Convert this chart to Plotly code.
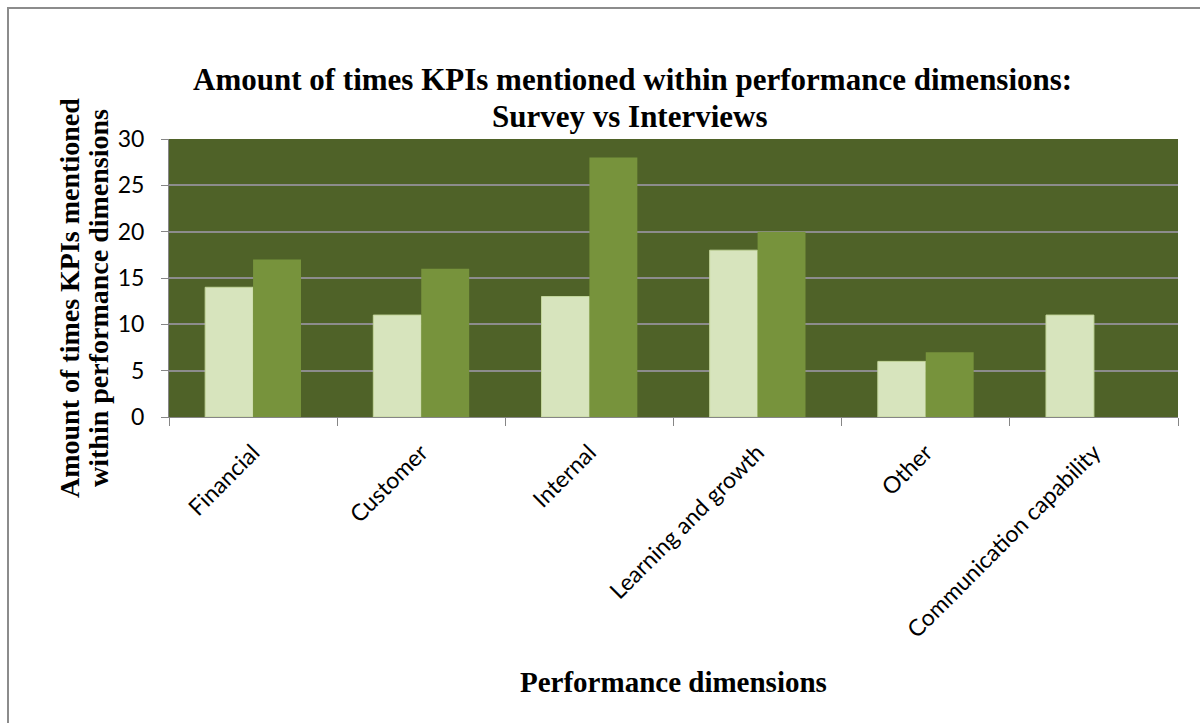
import plotly.graph_objects as go

categories = ["Financial", "Customer", "Internal", "Learning and growth", "Other", "Communication capability"]
survey = [14, 11, 13, 18, 6, 11]
interviews = [17, 16, 28, 20, 7, 0]
y_ticks = [0, 5, 10, 15, 20, 25, 30]
title_lines = ["Amount of times KPIs mentioned within performance dimensions:", "Survey vs Interviews"]
ytitle_lines = ["Amount of times KPIs mentioned", "within performance dimensions"]
xtitle = "Performance dimensions"

fig = go.Figure()
fig.add_trace(go.Bar(x=categories, y=survey, name="Survey",
                     marker=dict(color="#D7E4BD", line=dict(color="#C3D69B", width=1))))
fig.add_trace(go.Bar(x=categories, y=interviews, name="Interviews",
                     marker=dict(color="#77933C", line=dict(color="#77933C", width=0))))

W, H = 1200, 723
L, R, T, B = 169, 22, 139, 306
PW, PH = W - L - R, H - T - B

def px(x):
    return (x - L) / PW

def py(y):
    return (H - B - y) / PH

fig.update_layout(
    width=W, height=H,
    margin=dict(l=L, r=R, t=T, b=B),
    paper_bgcolor="white",
    plot_bgcolor="#4F6228",
    showlegend=False,
    barmode="group",
    bargap=0.43,
    bargroupgap=0,
    font=dict(family="Lato", color="black"),
)

serif_bold = dict(family="Liberation Serif", color="black", weight="bold")
annotations = [
    dict(text=title_lines[0], x=px(632), y=py(79), font=dict(size=31, **serif_bold)),
    dict(text=title_lines[1], x=px(630), y=py(116), font=dict(size=31, **serif_bold)),
    dict(text=ytitle_lines[0], x=px(69), y=py(298), textangle=-90, font=dict(size=28, **serif_bold)),
    dict(text=ytitle_lines[1], x=px(98), y=py(298), textangle=-90, font=dict(size=28, **serif_bold)),
    dict(text=xtitle, x=px(673), y=py(682), font=dict(size=29, **serif_bold)),
]
for a in annotations:
    a.update(xref="paper", yref="paper", xanchor="center", yanchor="middle", showarrow=False)
fig.update_layout(annotations=annotations)

fig.update_xaxes(
    type="category",
    tickson="boundaries",
    ticks="outside", ticklen=8, tickcolor="#868686", tickwidth=1,
    showline=True, linecolor="#868686", linewidth=1,
    tickangle=-45,
    ticklabelstandoff=12,
    tickfont=dict(family="Lato", size=23, color="black"),
    showgrid=False,
)
fig.update_yaxes(
    range=[0, 30],
    tickvals=y_ticks,
    ticks="outside", ticklen=7, tickcolor="#868686", tickwidth=1,
    ticklabelstandoff=12,
    showline=True, linecolor="#868686", linewidth=1,
    showgrid=True, gridcolor="#8C8C8C", gridwidth=2,
    zeroline=False,
    tickfont=dict(family="Lato", size=23, color="black"),
)

# outer chart border
fig.add_shape(type="rect", xref="paper", yref="paper",
              x0=px(8), x1=px(W + 5), y0=py(H + 5), y1=py(8),
              line=dict(color="#8C8C8C", width=2), fillcolor="rgba(0,0,0,0)", layer="below")

fig.write_html("out.html", config={"displayModeBar": False},
               post_script="document.body.style.margin='0';")
